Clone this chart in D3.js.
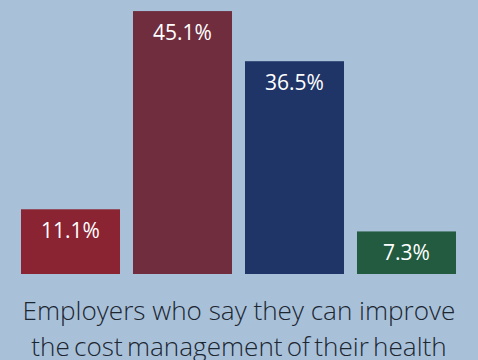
<!DOCTYPE html>
<html>
<head>
<meta charset="utf-8">
<script src="https://cdn.jsdelivr.net/npm/d3@7"></script>
<style>
  html, body { margin: 0; padding: 0; background: #a8c1d9; }
  svg { display: block; }
</style>
</head>
<body>
<div class="chart"></div>
<script>
// data
const categories = ["Group A", "Group B", "Group C", "Group D"];
const values = [11.1, 45.1, 36.5, 7.3];
const labels = ["11.1%", "45.1%", "36.5%", "7.3%"];
const colors = ["#8a2332", "#6f2d3e", "#1f3567", "#225b3f"];
const caption = ["Employers who say they can improve", "the cost management of their health"];

const width = 478;
const height = 360;
const margin = { top: 0, right: 22, bottom: 86, left: 21 };
const baseline = height - margin.bottom;

const svg = d3.select(".chart").append("svg")
    .attr("width", width)
    .attr("height", height);

svg.append("rect")
    .attr("width", width).attr("height", height)
    .attr("fill", "#a8c1d9");

// scales
const xScale = d3.scaleBand()
    .domain(categories)
    .range([margin.left, width - margin.right])
    .paddingInner(0.116)
    .paddingOuter(0);

const yScale = d3.scaleLinear()
    .domain([0, 47])
    .range([baseline, margin.top]);

const rows = categories.map((c, i) => ({ cat: c, value: values[i], label: labels[i], color: colors[i] }));

// bars
svg.append("g").attr("class", "bars")
    .selectAll("rect")
    .data(rows)
    .join("rect")
    .attr("x", d => xScale(d.cat))
    .attr("y", d => yScale(d.value))
    .attr("width", xScale.bandwidth())
    .attr("height", d => baseline - yScale(d.value))
    .attr("fill", d => d.color);

// value labels
svg.append("g").attr("class", "labels")
    .selectAll("text")
    .data(rows)
    .join("text")
    .attr("x", d => xScale(d.cat) + xScale.bandwidth() / 2)
    .attr("y", d => yScale(d.value) + 29)
    .attr("text-anchor", "middle")
    .attr("fill", "#ffffff")
    .style("font-family", "'Open Sans', sans-serif")
    .style("font-size", "21px")
    .text(d => d.label);

// caption: first line ~433px wide, second line set with tighter word gaps
const cap = svg.append("g").attr("class", "caption")
    .selectAll("text")
    .data(caption)
    .join("text")
    .attr("x", width / 2)
    .attr("y", (d, i) => 320 + i * 36)
    .attr("text-anchor", "middle")
    .attr("fill", "#1c2631")
    .style("font-family", "'Open Sans', sans-serif")
    .style("font-weight", 300)
    .style("font-size", "22px")
    .style("word-spacing", (d, i) => i === 1 ? "-2.5px" : "0px")
    .text(d => d);

const w0 = cap.nodes()[0].getComputedTextLength();
cap.style("font-size", (22 * 433 / w0) + "px");
</script>
</body>
</html>
